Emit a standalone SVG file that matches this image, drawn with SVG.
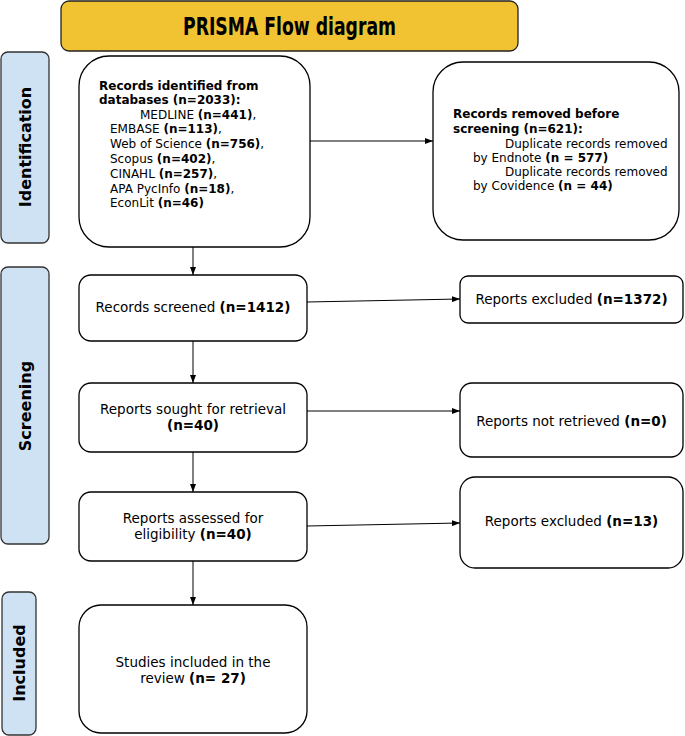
<svg xmlns="http://www.w3.org/2000/svg" width="685" height="736" viewBox="0 0 685 736">
<defs>
<marker id="arr" viewBox="0 0 8 6" refX="8" refY="3" markerWidth="8" markerHeight="6" orient="auto" markerUnits="userSpaceOnUse">
<path d="M0,0 L8,3 L0,6 z" fill="#000"/>
</marker>
<style>
.box{fill:#fff;stroke:#000;stroke-width:1.3}
.side{fill:#cfe2f3;stroke:#333;stroke-width:1.3}
.t{font-family:"DejaVu Sans","Noto Sans",sans-serif;fill:#000}
.s12{font-size:12px}
.s13{font-size:13.5px}
.b{font-weight:bold}
.sideT{font-family:"DejaVu Sans","Noto Sans",sans-serif;font-weight:bold;font-size:16px;fill:#000}
.conn{stroke:#000;stroke-width:1;fill:none}
</style>
</defs>
<rect width="685" height="736" fill="#fff"/>

<g id="title">
<rect x="61" y="1" width="457" height="50" rx="8" fill="#f1c232" stroke="#222" stroke-width="1.3"/>
<text x="289.5" y="35" text-anchor="middle" font-family="'DejaVu Sans Condensed','DejaVu Sans',sans-serif" font-weight="bold" font-size="24" textLength="213" lengthAdjust="spacingAndGlyphs">PRISMA Flow diagram</text>
</g>

<g id="side-identification">
<rect class="side" x="1" y="52" width="48" height="191" rx="7"/>
<text class="sideT" transform="translate(30.5,147) rotate(-90)" text-anchor="middle">Identification</text>
</g>
<g id="side-screening">
<rect class="side" x="1" y="267" width="48" height="277" rx="7"/>
<text class="sideT" transform="translate(30.5,406) rotate(-90)" text-anchor="middle">Screening</text>
</g>
<g id="side-included">
<rect class="side" x="2" y="592" width="34" height="143" rx="7"/>
<text class="sideT" transform="translate(24.5,663) rotate(-90)" text-anchor="middle">Included</text>
</g>

<g id="records-identified">
<rect class="box" x="79" y="56" width="231" height="191" rx="30"/>
<text class="t s12 b" x="99" y="90">Records identified from</text>
<text class="t s12 b" x="99" y="104">databases (n=2033):</text>
<text class="t s12" x="140" y="119">MEDLINE <tspan class="b">(n=441)</tspan>,</text>
<text class="t s12" x="110" y="133">EMBASE <tspan class="b">(n=113)</tspan>,</text>
<text class="t s12" x="110" y="148">Web of Science <tspan class="b">(n=756)</tspan>,</text>
<text class="t s12" x="110" y="163">Scopus <tspan class="b">(n=402)</tspan>,</text>
<text class="t s12" x="110" y="178">CINAHL <tspan class="b">(n=257)</tspan>,</text>
<text class="t s12" x="110" y="193">APA PycInfo <tspan class="b">(n=18)</tspan>,</text>
<text class="t s12" x="110" y="207">EconLit <tspan class="b">(n=46)</tspan></text>
</g>

<g id="records-removed">
<rect class="box" x="433" y="62" width="246" height="178" rx="30"/>
<text class="t s12 b" x="453" y="118">Records removed before</text>
<text class="t s12 b" x="453" y="133">screening (n=621):</text>
<text class="t s12" x="505" y="148">Duplicate records removed</text>
<text class="t s12" x="473" y="162">by Endnote <tspan class="b">(n = 577)</tspan></text>
<text class="t s12" x="505" y="176">Duplicate records removed</text>
<text class="t s12" x="473" y="190">by Covidence <tspan class="b">(n = 44)</tspan></text>
</g>

<g id="records-screened">
<rect class="box" x="79" y="275" width="228" height="66" rx="12"/>
<text class="t s13" x="193" y="312" text-anchor="middle">Records screened <tspan class="b">(n=1412)</tspan></text>
</g>

<g id="reports-excluded-1">
<rect class="box" x="460" y="276" width="223" height="47" rx="8"/>
<text class="t s13" x="571.5" y="304" text-anchor="middle">Reports excluded <tspan class="b">(n=1372)</tspan></text>
</g>

<g id="reports-sought">
<rect class="box" x="79" y="383" width="228" height="69" rx="12"/>
<text class="t s13" x="193" y="414" text-anchor="middle">Reports sought for retrieval</text>
<text class="t s13 b" x="193" y="430" text-anchor="middle">(n=40)</text>
</g>

<g id="reports-not-retrieved">
<rect class="box" x="460" y="383" width="223" height="74" rx="12"/>
<text class="t s13" x="571.5" y="426" text-anchor="middle">Reports not retrieved <tspan class="b">(n=0)</tspan></text>
</g>

<g id="reports-assessed">
<rect class="box" x="79" y="492" width="228" height="69" rx="12"/>
<text class="t s13" x="193" y="523" text-anchor="middle">Reports assessed for</text>
<text class="t s13" x="193" y="539" text-anchor="middle">eligibility <tspan class="b">(n=40)</tspan></text>
</g>

<g id="reports-excluded-2">
<rect class="box" x="460" y="477" width="223" height="91" rx="15"/>
<text class="t s13" x="571.5" y="526" text-anchor="middle">Reports excluded <tspan class="b">(n=13)</tspan></text>
</g>

<g id="studies-included">
<rect class="box" x="79" y="605" width="228" height="128" rx="22"/>
<text class="t s13" x="193" y="667" text-anchor="middle">Studies included in the</text>
<text class="t s13" x="193" y="683" text-anchor="middle">review <tspan class="b">(n= 27)</tspan></text>
</g>

<g id="connectors">
<line class="conn" x1="310" y1="141" x2="433" y2="141" marker-end="url(#arr)"/>
<line class="conn" x1="193" y1="247" x2="193" y2="275" marker-end="url(#arr)"/>
<line class="conn" x1="307" y1="302" x2="460" y2="299" marker-end="url(#arr)"/>
<line class="conn" x1="193" y1="341" x2="193" y2="383" marker-end="url(#arr)"/>
<line class="conn" x1="307" y1="411" x2="460" y2="411" marker-end="url(#arr)"/>
<line class="conn" x1="193" y1="452" x2="193" y2="492" marker-end="url(#arr)"/>
<line class="conn" x1="307" y1="526" x2="460" y2="523" marker-end="url(#arr)"/>
<line class="conn" x1="193" y1="561" x2="193" y2="605" marker-end="url(#arr)"/>
</g>
</svg>
